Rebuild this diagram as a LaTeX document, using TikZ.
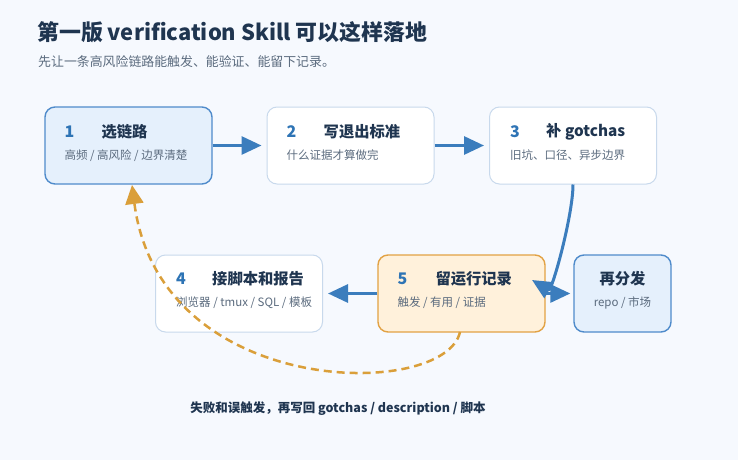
\documentclass[tikz,border=0pt]{standalone}
\usepackage{fontspec}
\setmainfont{Noto Sans CJK SC}
\usetikzlibrary{positioning, arrows.meta, calc}
\definecolor{bg_page}{HTML}{F6F9FE}
\definecolor{ink_dark}{HTML}{1F3550}
\definecolor{ink_gray}{HTML}{5B6B7E}
\definecolor{num_blue}{HTML}{2E74B5}
\definecolor{flow_blue}{HTML}{3B7DBD}
\definecolor{fill_blue}{HTML}{E5F0FC}
\definecolor{edge_blue}{HTML}{4F8BCB}
\definecolor{edge_light}{HTML}{C8D9EC}
\definecolor{fill_amber}{HTML}{FFF1DB}
\definecolor{edge_amber}{HTML}{E2A244}
\definecolor{loop_amber}{HTML}{DA9F3A}

\begin{document}
\begin{tikzpicture}[
    x=1pt, y=-1pt,
    stepbox/.style={draw=edge_light, fill=white, rounded corners=10pt, line width=1pt,
        minimum width=167pt, minimum height=77pt, inner sep=0pt},
    hotbox/.style={stepbox, draw=edge_blue, fill=fill_blue, line width=1.4pt},
    logbox/.style={stepbox, draw=edge_amber, fill=fill_amber, line width=1.4pt},
    num/.style={anchor=west, inner sep=0pt, text=num_blue, font=\fontsize{16}{18}\selectfont\bfseries},
    head/.style={anchor=west, inner sep=0pt, text=ink_dark, font=\fontsize{15.3}{18}\selectfont\bfseries},
    note/.style={anchor=west, inner sep=0pt, text=ink_gray, font=\fontsize{11.5}{14}\selectfont},
    flow/.style={-{Triangle[length=20pt, width=18pt]}, line width=3pt, draw=flow_blue, shorten >=5pt},
    feedback/.style={-{Triangle[length=19pt, width=18pt]}, line width=2.5pt, draw=loop_amber,
        dash pattern=on 8pt off 5pt}
]

%% ============================================================
%% PAGE + HEADER
%% ============================================================
\fill[bg_page] (0,0) rectangle (738,460);
\useasboundingbox (0,0) rectangle (738,460);

\node[anchor=west, inner sep=0pt, text=ink_dark, font=\fontsize{21.9}{26}\selectfont\bfseries]
    (title) at (37,32) {第一版 verification Skill 可以这样落地};
\node[anchor=west, inner sep=0pt, text=ink_gray, font=\fontsize{12.9}{15}\selectfont]
    (subtitle) at (38,62) {先让一条高风险链路能触发、能验证、能留下记录。};

%% ============================================================
%% TOP ROW: 1 -> 2 -> 3
%% ============================================================
\node[hotbox] (box1) at (128.5,145.5) {};
\node[num] (num1) at ([shift={(20pt,14pt)}]box1.west) {1};
\node[head] (head1) at ([shift={(57pt,14pt)}]box1.west) {选链路};
\node[note] (note1) at ([shift={(20pt,-10pt)}]box1.west) {高频 / 高风险 / 边界清楚};

\node[stepbox] (box2) at (350.5,145.5) {};
\node[num] (num2) at ([shift={(20pt,14pt)}]box2.west) {2};
\node[head] (head2) at ([shift={(57pt,14pt)}]box2.west) {写退出标准};
\node[note] (note2) at ([shift={(20pt,-10pt)}]box2.west) {什么证据才算做完};

\node[stepbox] (box3) at (573,145.5) {};
\node[num] (num3) at ([shift={(21pt,14pt)}]box3.west) {3};
\node[head] (head3) at ([shift={(57pt,14pt)}]box3.west) {补 gotchas};
\node[note] (note3) at ([shift={(21pt,-10pt)}]box3.west) {旧坑、口径、异步边界};

\draw[flow] (box1.east) -- (box2.west);
\draw[flow] (box2.east) -- (box3.west);

%% ============================================================
%% BOTTOM ROW: 4 <- 5 -> 再分发
%% ============================================================
\node[stepbox] (box4) at (239,293.5) {};
\node[num] (num4) at ([shift={(21pt,15pt)}]box4.west) {4};
\node[head] (head4) at ([shift={(57pt,15pt)}]box4.west) {接脚本和报告};
\node[note] (note4) at ([shift={(21pt,-9pt)}]box4.west) {浏览器 / tmux / SQL / 模板};

\node[logbox] (box5) at (461.5,293.5) {};
\node[num] (num5) at ([shift={(20pt,15pt)}]box5.west) {5};
\node[head] (head5) at ([shift={(58pt,15pt)}]box5.west) {留运行记录};
\node[note] (note5) at ([shift={(20pt,-9pt)}]box5.west) {触发 / 有用 / 证据};

\node[hotbox, minimum width=97pt] (box6) at (622.5,293.5) {};
\node[head, anchor=center] (head6) at ([yshift=15pt]box6.center) {再分发};
\node[note, anchor=center] (note6) at ([yshift=-9pt]box6.center) {repo / 市场};

\coordinate (hook) at (532,280);
\draw[flow, shorten >=0pt] (box3.south) .. controls (573,215) and (552,292) .. (hook);
\draw[flow] (box5.west) -- (box4.east);
\draw[flow, shorten >=3pt] (box5.east) -- (box6.west);

%% --- Feedback loop ---
\coordinate (loop_out) at (460,332);
\coordinate (loop_in) at (132,185);
\draw[feedback] (loop_out) .. controls (445,400) and (160,400) .. (loop_in);
\node[inner sep=0pt, text=ink_dark, font=\fontsize{12.5}{15}\selectfont\bfseries]
    (loop_note) at (338,409) {失败和误触发，再写回 gotchas / description / 脚本};

\end{tikzpicture}
\end{document}
